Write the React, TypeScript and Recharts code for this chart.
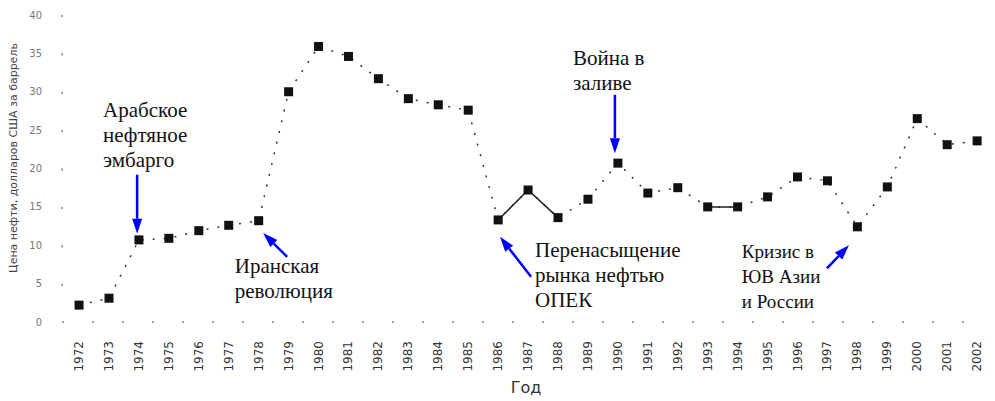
import {LineChart, Line, XAxis, YAxis, ReferenceLine, ReferenceDot} from "recharts";

const years = [1972, 1973, 1974, 1975, 1976, 1977, 1978, 1979, 1980, 1981, 1982, 1983, 1984, 1985, 1986, 1987,
    1988, 1989, 1990, 1991, 1992, 1993, 1994, 1995, 1996, 1997, 1998, 1999, 2000, 2001, 2002];
const prices = [2.2, 3.1, 10.7, 10.9, 11.9, 12.6, 13.2, 30.0, 35.9, 34.6, 31.7, 29.1, 28.3, 27.6, 13.3, 17.2,
    13.6, 16.0, 20.7, 16.8, 17.5, 15.0, 15.0, 16.3, 18.9, 18.4, 12.4, 17.6, 26.5, 23.1, 23.6];
// years where the connecting line is drawn solid
const solidYears = [1986, 1987, 1988, 1993, 1994];
const yTicks = [0, 5, 10, 15, 20, 25, 30, 35, 40];

// annotations: text block position (data coords) and arrow from -> to
const notes = [
    {lines: ["Арабское", "нефтяное", "эмбарго"], x: 1972.8, y: 26.7, size: 21, from: [1973.94, 19.2], to: [1973.94, 11.5]},
    {lines: ["Иранская", "революция"], x: 1977.2, y: 6.4, size: 21, from: [1978.95, 8.5], to: [1978.15, 11.6]},
    {lines: ["Война в", "заливе"], x: 1988.5, y: 33.5, size: 21, from: [1989.9, 29.6], to: [1989.9, 22.0]},
    {lines: ["Перенасыщение", "рынка нефтью", "ОПЕК"], x: 1987.23, y: 8.5, size: 21, from: [1987.1, 5.9], to: [1986.06, 11.1]},
    {lines: ["Кризис в", "ЮВ Азии", "и России"], x: 1994.14, y: 8.3, size: 19, from: [1996.98, 7.0], to: [1997.72, 10.0]},
];

const data = years.map((year, i) => ({
    year,
    price: prices[i],
    solid: solidYears.includes(year) ? prices[i] : null,
}));

const SquareDot = ({cx, cy}: any) => {
    if (cx == null || cy == null) return null;
    return <rect x={cx - 4.5} y={cy - 4.5} width={9} height={9} fill="#111"/>;
};

const YearTick = ({x, y, payload}: any) => (
    <text x={x} y={y + 11} transform={`rotate(-90 ${x} ${y + 11})`} textAnchor="end" dominantBaseline="central"
          fontSize={12} fontFamily="DejaVu Sans" fill="#333">{payload.value}</text>
);

const PriceTick = ({x, y, payload}: any) => (
    <text x={x - 12} y={y} textAnchor="end" dominantBaseline="central" fontSize={10}
          fontFamily="DejaVu Sans" fill="#777">{payload.value}</text>
);

const YLabel = () => (
    <text x={13} y={158} transform="rotate(-90 13 158)" textAnchor="middle" dominantBaseline="central"
          fontSize={11} fontFamily="DejaVu Sans" fill="#444">Цена нефти, долларов США за баррель</text>
);

const Arrow = ({x1, y1, x2, y2}: any) => {
    const dx = x2 - x1, dy = y2 - y1;
    const len = Math.sqrt(dx * dx + dy * dy);
    const ux = dx / len, uy = dy / len;
    const hl = 15, hw = 5;
    const bx = x2 - ux * hl, by = y2 - uy * hl;
    return (
        <g>
            <line x1={x1} y1={y1} x2={bx} y2={by} stroke="#0000ff" strokeWidth={2.5}/>
            <polygon points={`${x2},${y2} ${bx - uy * hw},${by + ux * hw} ${bx + uy * hw},${by - ux * hw}`} fill="#0000ff"/>
        </g>
    );
};

const noteText = (lines: string[], size: number) => ({cx, cy}: any) => (
    <text x={cx} y={cy} fontSize={size} fontFamily="Liberation Serif" fill="#111">
        {lines.map((l, i) => <tspan key={i} x={cx} dy={i === 0 ? 0 : 25}>{l}</tspan>)}
    </text>
);

export default function App() {
    return (
        <div style={{position: "absolute", left: 0, top: 0, background: "#fff"}}>
            <LineChart width={995} height={401} data={data} margin={{top: 15, right: 5, bottom: 0, left: 0}}>
                <XAxis dataKey="year" type="number" domain={[1971.43, 2002.43]} ticks={years} interval={0}
                       allowDataOverflow tick={<YearTick/>} tickLine={false} height={79}
                       axisLine={{stroke: "#444", strokeDasharray: "2 28"}}
                       label={{value: "Год", position: "insideBottom", offset: 8, fontSize: 16,
                           fontFamily: "DejaVu Sans", fill: "#333"}}/>
                <YAxis domain={[0, 40]} ticks={yTicks} width={62} tick={<PriceTick/>} tickLine={false}
                       axisLine={{stroke: "#444", strokeDasharray: "2 36.4"}}
                       label={<YLabel/>}/>
                <Line dataKey="price" stroke="#333" strokeWidth={1.5} strokeDasharray="2 9"
                      dot={<SquareDot/>} activeDot={false} isAnimationActive={false}/>
                <Line dataKey="solid" stroke="#222" strokeWidth={1.5} dot={false} activeDot={false}
                      connectNulls={false} isAnimationActive={false}/>
                {notes.map((n, i) => (
                    <ReferenceLine key={"a" + i} segment={[{x: n.from[0], y: n.from[1]}, {x: n.to[0], y: n.to[1]}]}
                                   shape={<Arrow/>} ifOverflow="visible"/>
                ))}
                {notes.map((n, i) => (
                    <ReferenceDot key={"t" + i} x={n.x} y={n.y} r={0} ifOverflow="visible"
                                  shape={noteText(n.lines, n.size)}/>
                ))}
            </LineChart>
        </div>
    );
}
